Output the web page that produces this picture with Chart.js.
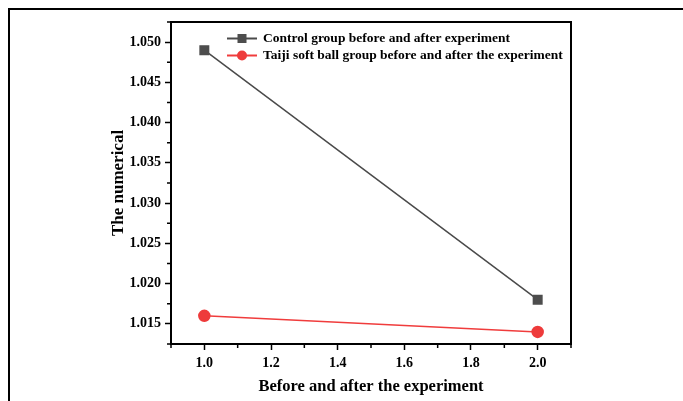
<!DOCTYPE html>
<html>
<head>
<meta charset="utf-8">
<script src="https://cdn.jsdelivr.net/npm/chart.js@4/dist/chart.umd.min.js"></script>
<style>
  html, body { margin: 0; padding: 0; background: #fff; }
  #wrap { position: relative; width: 683px; height: 401px; overflow: hidden; }
  #frame { position: absolute; left: 8px; top: 8px; right: -10px; bottom: -10px; border-left: 2px solid #000; border-top: 2px solid #000; }
  canvas { position: absolute; left: 0; top: 0; }
</style>
</head>
<body>
<div id="wrap">
  <div id="frame"></div>
  <canvas id="c" width="683" height="401"></canvas>
</div>
<script>
const xValues = [1.0, 2.0];
const controlValues = [1.049, 1.018];
const taijiValues = [1.016, 1.014];
const seriesLabels = ['Control group before and after experiment', 'Taiji soft ball group before and after the experiment'];
const xTicks = [1.0, 1.2, 1.4, 1.6, 1.8, 2.0];
const xMinorTicks = [0.9, 1.1, 1.3, 1.5, 1.7, 1.9, 2.1];
const yTicks = [1.015, 1.020, 1.025, 1.030, 1.035, 1.040, 1.045, 1.050];
const yMinorTicks = [1.0125, 1.0175, 1.0225, 1.0275, 1.0325, 1.0375, 1.0425, 1.0475, 1.0525];
const xTitle = 'Before and after the experiment';
const yTitle = 'The numerical';

const FONT = '"Liberation Serif", "Times New Roman", serif';

const minorTicks = {
  id: 'minorTicks',
  afterDraw(chart) {
    const ctx = chart.ctx, a = chart.chartArea;
    const xs = chart.scales.x, ys = chart.scales.y;
    ctx.save();
    ctx.strokeStyle = '#000';
    ctx.lineWidth = 2;
    ctx.beginPath();
    ctx.moveTo(a.left, a.top); ctx.lineTo(a.right, a.top); ctx.lineTo(a.right, a.bottom);
    ctx.stroke();
    ctx.lineWidth = 1.5;
    ctx.beginPath();
    xMinorTicks.forEach(v => { const p = xs.getPixelForValue(v); ctx.moveTo(p, a.bottom); ctx.lineTo(p, a.bottom + 4); });
    yMinorTicks.forEach(v => { const p = ys.getPixelForValue(v); ctx.moveTo(a.left, p); ctx.lineTo(a.left - 4, p); });
    ctx.stroke();
    ctx.restore();
  }
};

const legendInside = {
  id: 'legendInside',
  afterDatasetsDraw(chart) {
    const ctx = chart.ctx, a = chart.chartArea;
    ctx.save();
    chart.data.datasets.forEach((ds, i) => {
      const y = a.top + 16.5 + i * 17;
      const x0 = a.left + 56, x1 = a.left + 86, xm = (x0 + x1) / 2;
      ctx.strokeStyle = ds.borderColor;
      ctx.lineWidth = 2;
      ctx.beginPath(); ctx.moveTo(x0, y); ctx.lineTo(x1, y); ctx.stroke();
      ctx.fillStyle = ds.pointBackgroundColor;
      if (ds.pointStyle === 'rect') {
        ctx.fillRect(xm - 4.5, y - 4.5, 9, 9);
      } else {
        ctx.beginPath(); ctx.arc(xm, y, 5, 0, Math.PI * 2); ctx.fill();
      }
      ctx.fillStyle = '#000';
      ctx.font = 'bold 13.5px ' + FONT;
      ctx.textBaseline = 'middle';
      ctx.textAlign = 'left';
      ctx.fillText(ds.label, a.left + 92, y);
    });
    ctx.restore();
  }
};

new Chart(document.getElementById('c'), {
  type: 'line',
  data: {
    datasets: [
      {
        label: seriesLabels[0],
        data: xValues.map((x, i) => ({ x, y: controlValues[i] })),
        borderColor: '#4a4a4a',
        backgroundColor: '#4d4d4d',
        pointBackgroundColor: '#4d4d4d',
        pointBorderColor: '#4d4d4d',
        pointStyle: 'rect',
        pointRadius: 6,
        borderWidth: 1.5,
        tension: 0
      },
      {
        label: seriesLabels[1],
        data: xValues.map((x, i) => ({ x, y: taijiValues[i] })),
        borderColor: '#f03c3c',
        backgroundColor: '#ee3b3b',
        pointBackgroundColor: '#ee3b3b',
        pointBorderColor: '#ee3b3b',
        pointStyle: 'circle',
        pointRadius: 5.5,
        borderWidth: 1.5,
        tension: 0
      }
    ]
  },
  options: {
    responsive: false,
    animation: false,
    layout: { padding: { left: 104, top: 22, right: 112, bottom: 0 } },
    plugins: { legend: { display: false }, tooltip: { enabled: false } },
    scales: {
      x: {
        type: 'linear',
        min: 0.9, max: 2.1,
        afterBuildTicks: s => { s.ticks = xTicks.map(v => ({ value: v })); },
        afterFit: s => { s.height = 57; },
        grid: { drawOnChartArea: false, tickLength: 6, tickWidth: 1.5, tickColor: '#000' },
        border: { color: '#000', width: 2 },
        ticks: { color: '#000', font: { family: FONT, size: 14, weight: 'bold' }, padding: 5, callback: v => Number(v).toFixed(1), maxRotation: 0 },
        title: { display: true, text: xTitle, color: '#000', font: { family: FONT, size: 16.5, weight: 'bold' }, padding: { top: 4 } }
      },
      y: {
        type: 'linear',
        min: 1.0125, max: 1.0525,
        afterBuildTicks: s => { s.ticks = yTicks.map(v => ({ value: v })); },
        afterFit: s => { s.width = 67; },
        grid: { drawOnChartArea: false, tickLength: 6, tickWidth: 1.5, tickColor: '#000' },
        border: { color: '#000', width: 2 },
        ticks: { color: '#000', font: { family: FONT, size: 14, weight: 'bold' }, padding: 4, callback: v => Number(v).toFixed(3) },
        title: { display: true, text: yTitle, color: '#000', font: { family: FONT, size: 17, weight: 'bold' }, padding: { bottom: 2 } }
      }
    }
  },
  plugins: [minorTicks, legendInside]
});
</script>
</body>
</html>
